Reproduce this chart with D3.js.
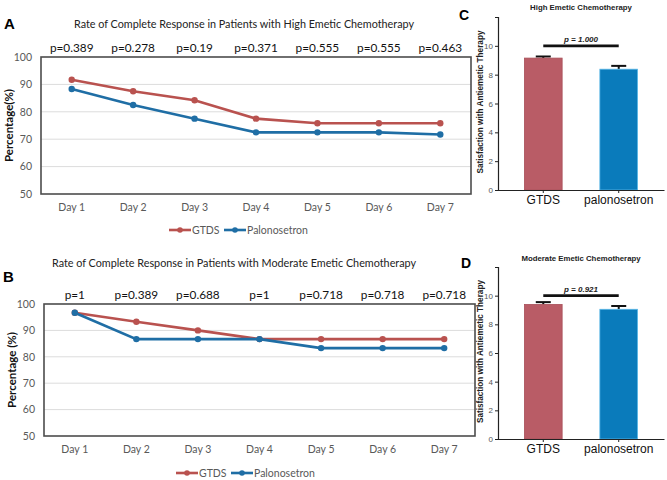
<!DOCTYPE html>
<html><head><meta charset="utf-8">
<script src="https://cdn.jsdelivr.net/npm/d3@7"></script>
<style>body{margin:0;background:#fff}svg{display:block}</style>
</head><body>
<script>
const days = ["Day 1","Day 2","Day 3","Day 4","Day 5","Day 6","Day 7"];
const seriesNames = ["GTDS","Palonosetron"];
const highGTDS = [91.7, 87.5, 84.2, 77.5, 75.8, 75.8, 75.8];
const highPalo = [88.3, 82.5, 77.5, 72.5, 72.5, 72.5, 71.7];
const highP = ["p=0.389","p=0.278","p=0.19","p=0.371","p=0.555","p=0.555","p=0.463"];
const modGTDS = [96.7, 93.3, 90.0, 86.7, 86.7, 86.7, 86.7];
const modPalo = [96.7, 86.7, 86.7, 86.7, 83.3, 83.3, 83.3];
const modP = ["p=1","p=0.389","p=0.688","p=1","p=0.718","p=0.718","p=0.718"];
const lineTicks = [50,60,70,80,90,100];

const barCats = ["GTDS","palonosetron"];
const highBar = [9.15, 8.38];
const highErr = [0.11, 0.23];
const highBarP = "p = 1.000";
const modBar = [9.39, 9.05];
const modErr = [0.16, 0.23];
const modBarP = "p = 0.921";
const barTicks = [0,2,4,6,8,10];

const colors = {GTDS:"#b9524f", Palonosetron:"#1f6ea5"};
const barColors = ["#b95c66","#0a7bbb"];
const barEdge = ["#a9505a","#5ab8e8"];

const W=667,H=480;
const svg = d3.select("body").append("svg").attr("width",W).attr("height",H)
  .style("font-family","Lato, 'Open Sans', sans-serif");

function linePanel(o){
  const g = svg.append("g");
  const x = d3.scaleBand().domain(days).range([o.x0,o.x1]);
  const y = d3.scaleLinear().domain([50,100]).range([o.y1,o.y0]);
  g.selectAll("line.grid").data(lineTicks.filter(t=>t>50&&t<100)).join("line")
    .attr("x1",o.x0).attr("x2",o.x1).attr("y1",d=>y(d)).attr("y2",d=>y(d))
    .attr("stroke","#dcdcdc").attr("stroke-width",1);
  const ya = g.append("g").attr("transform",`translate(${o.x0},0)`)
    .call(d3.axisLeft(y).tickValues(lineTicks).tickSize(0).tickPadding(9));
  ya.select(".domain").remove();
  ya.selectAll("text").attr("fill","#595959").style("font-size","10.5px").style("font-family","Lato, sans-serif");
  const xa = g.append("g").attr("transform",`translate(0,${o.y1})`)
    .call(d3.axisBottom(x).tickSize(0).tickPadding(10));
  xa.select(".domain").remove();
  xa.selectAll("text").attr("fill","#595959").style("font-size","10.5px").style("font-family","Lato, sans-serif");
  g.append("rect").attr("x",o.x0).attr("y",o.y0).attr("width",o.x1-o.x0).attr("height",o.y1-o.y0)
    .attr("fill","none").attr("stroke","#4d4d4d").attr("stroke-width",1.6);
  const line = d3.line().x((d,i)=>x(days[i])+x.bandwidth()/2).y(d=>y(d));
  [[o.gtds,"GTDS"],[o.palo,"Palonosetron"]].forEach(([vals,name])=>{
    g.append("path").attr("d",line(vals)).attr("fill","none").attr("stroke",colors[name]).attr("stroke-width",2.6);
    g.selectAll(null).data(vals).join("circle")
      .attr("cx",(d,i)=>x(days[i])+x.bandwidth()/2).attr("cy",d=>y(d)).attr("r",3.2).attr("fill",colors[name]);
  });
  g.selectAll(null).data(o.p).join("text")
    .attr("x",(d,i)=>x(days[i])+x.bandwidth()/2).attr("y",o.y0-5)
    .attr("text-anchor","middle").style("font-family","Lato, sans-serif")
    .style("font-size","11.8px").attr("fill","#111").text(d=>d);
  g.append("text").attr("x",o.tx).attr("y",o.ty).attr("text-anchor","middle")
    .style("font-size","10.8px").attr("fill","#222").text(o.title);
  g.append("text").attr("x",o.lx).attr("y",o.ly).style("font-family","Arial, 'Liberation Sans', sans-serif")
    .style("font-weight","bold").style("font-size","15px").text(o.letter);
  g.append("text").attr("transform",`translate(${o.ylx},${(o.y0+o.y1)/2}) rotate(-90)`)
    .attr("text-anchor","middle").style("font-weight","bold").style("font-size","11.5px").attr("fill","#111").text(o.ylabel);
  const lg = g.append("g").attr("transform",`translate(${o.legx},${o.legy})`);
  let cx=0;
  seriesNames.forEach((n,i)=>{
    lg.append("line").attr("x1",cx).attr("x2",cx+22).attr("y1",0).attr("y2",0).attr("stroke",colors[n]).attr("stroke-width",2.6);
    lg.append("circle").attr("cx",cx+11).attr("cy",0).attr("r",2.8).attr("fill",colors[n]);
    lg.append("text").attr("x",cx+23).attr("y",3.8).style("font-size","10.5px").attr("fill","#595959").text(n);
    cx += (i===0?55:0);
  });
}

function barPanel(o){
  const g = svg.append("g");
  const y = d3.scaleLinear().domain([0,12]).range([o.y1,o.y0]);
  const x = d3.scaleBand().domain(barCats).range([o.x0,o.x1]).paddingInner(0.5).paddingOuter(0.35);
  const cx = c=>x(c)+x.bandwidth()/2;
  g.selectAll(null).data(o.vals).join("line")
    .attr("x1",(d,i)=>cx(barCats[i])).attr("x2",(d,i)=>cx(barCats[i]))
    .attr("y1",d=>y(d)).attr("y2",(d,i)=>y(d+o.err[i])).attr("stroke","#111").attr("stroke-width",2);
  g.selectAll(null).data(o.vals).join("line")
    .attr("x1",(d,i)=>cx(barCats[i])-7.5).attr("x2",(d,i)=>cx(barCats[i])+7.5)
    .attr("y1",(d,i)=>y(d+o.err[i])).attr("y2",(d,i)=>y(d+o.err[i])).attr("stroke","#111").attr("stroke-width",2);
  g.selectAll(null).data(o.vals).join("rect")
    .attr("x",(d,i)=>x(barCats[i])).attr("width",x.bandwidth())
    .attr("y",d=>y(d)).attr("height",d=>y(0)-y(d))
    .attr("fill",(d,i)=>barColors[i]).attr("stroke",(d,i)=>barEdge[i]).attr("stroke-width",0.8);
  const ya = g.append("g").attr("transform",`translate(${o.x0},0)`)
    .call(d3.axisLeft(y).tickValues(barTicks).tickSize(3).tickPadding(2));
  ya.select(".domain").attr("stroke","#222").attr("stroke-width",1.2);
  ya.selectAll(".tick line").attr("stroke","#222");
  ya.selectAll("text").attr("fill","#555").style("font-size","8px").style("font-family","Arial, 'Liberation Sans', sans-serif");
  const xa = g.append("g").attr("transform",`translate(0,${o.y1})`)
    .call(d3.axisBottom(x).tickSize(3).tickPadding(2).tickSizeOuter(0));
  xa.select(".domain").attr("stroke","#222").attr("stroke-width",1.2);
  xa.selectAll(".tick line").attr("stroke","#222");
  xa.selectAll("text").attr("fill","#111").style("font-size","12px").style("font-family","Arial, 'Liberation Sans', sans-serif");
  g.append("line").attr("x1",cx(barCats[0])).attr("x2",cx(barCats[1])).attr("y1",y(10)).attr("y2",y(10))
    .attr("stroke","#111").attr("stroke-width",2.6);
  g.append("text").attr("x",(cx(barCats[0])+cx(barCats[1]))/2).attr("y",y(10)-4)
    .attr("text-anchor","middle").style("font-family","Arial, 'Liberation Sans', sans-serif")
    .style("font-style","italic").style("font-weight","bold").style("font-size","8px").attr("fill","#222").text(o.p);
  g.append("text").attr("x",o.tx).attr("y",o.ty).attr("text-anchor","middle")
    .style("font-family","Arial, 'Liberation Sans', sans-serif").style("font-weight","bold").style("font-size","7.8px").attr("fill","#222").text(o.title);
  g.append("text").attr("transform",`translate(${o.ylx},${y(6.1)}) rotate(-90)`)
    .attr("text-anchor","middle").style("font-family","Arial, 'Liberation Sans', sans-serif")
    .style("font-weight","bold").style("font-size","8.2px").attr("fill","#222").text("Satisfaction with Antiemetic Therapy");
  g.append("text").attr("x",o.lx).attr("y",o.ly).style("font-family","Arial, 'Liberation Sans', sans-serif")
    .style("font-weight","bold").style("font-size","14px").text(o.letter);
}

linePanel({x0:41,x1:471,y0:57,y1:194,gtds:highGTDS,palo:highPalo,p:highP,
  title:"Rate of Complete Response in Patients with High Emetic Chemotherapy",tx:244,ty:28,
  letter:"A",lx:4,ly:29,ylabel:"Percentage(%)",ylx:13,legx:169,legy:230});
linePanel({x0:44,x1:475,y0:304,y1:436,gtds:modGTDS,palo:modPalo,p:modP,
  title:"Rate of Complete Response in Patients with Moderate Emetic Chemotherapy",tx:234,ty:267,
  letter:"B",lx:3,ly:282,ylabel:"Percentage (%)",ylx:16,legx:176,legy:473});
barPanel({x0:498,x1:664,y0:17,y1:190,vals:highBar,err:highErr,p:highBarP,
  title:"High Emetic Chemotherapy",tx:581,ty:10,ylx:483,letter:"C",lx:459,ly:20});
barPanel({x0:498,x1:664,y0:267,y1:439,vals:modBar,err:modErr,p:modBarP,
  title:"Moderate Emetic Chemotherapy",tx:581,ty:261,ylx:483,letter:"D",lx:461,ly:268});
</script>
</body></html>
